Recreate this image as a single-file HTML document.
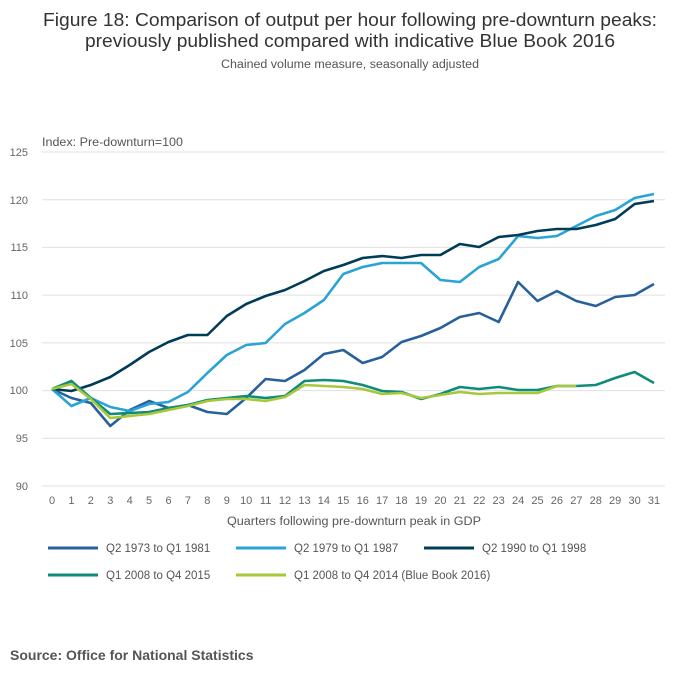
<!DOCTYPE html>
<html><head><meta charset="utf-8"><style>
body{margin:0;background:#fff;width:700px;height:682px;overflow:hidden;font-family:"Liberation Sans",sans-serif}
</style></head><body>
<svg width="700" height="682" xmlns="http://www.w3.org/2000/svg" font-family="Liberation Sans, sans-serif">
<text x="350" y="26" text-anchor="middle" font-size="18" fill="#333" textLength="614" lengthAdjust="spacingAndGlyphs">Figure 18: Comparison of output per hour following pre-downturn peaks:</text>
<text x="350" y="47" text-anchor="middle" font-size="18" fill="#333" textLength="530" lengthAdjust="spacingAndGlyphs">previously published compared with indicative Blue Book 2016</text>
<text x="350" y="68" text-anchor="middle" font-size="11.5" fill="#555" textLength="258" lengthAdjust="spacingAndGlyphs">Chained volume measure, seasonally adjusted</text>
<text x="42" y="146" font-size="11.5" fill="#555" textLength="141" lengthAdjust="spacingAndGlyphs">Index: Pre-downturn=100</text>
<g stroke="#e0e0e0" stroke-width="1">
<line x1="42" x2="665" y1="152" y2="152"/><line x1="42" x2="665" y1="199.7" y2="199.7"/><line x1="42" x2="665" y1="247.4" y2="247.4"/><line x1="42" x2="665" y1="295.1" y2="295.1"/><line x1="42" x2="665" y1="342.9" y2="342.9"/><line x1="42" x2="665" y1="390.6" y2="390.6"/><line x1="42" x2="665" y1="438.3" y2="438.3"/><line x1="42" x2="665" y1="486" y2="486"/>
</g>
<g font-size="11" fill="#666" text-anchor="end">
<text x="28" y="156">125</text><text x="28" y="204">120</text><text x="28" y="251">115</text><text x="28" y="299">110</text><text x="28" y="347">105</text><text x="28" y="394">100</text><text x="28" y="442">95</text><text x="28" y="490">90</text>
</g>
<g id="xl" font-size="11" fill="#666" text-anchor="middle"></g>
<text x="354" y="525" text-anchor="middle" font-size="11.5" fill="#555" textLength="254" lengthAdjust="spacingAndGlyphs">Quarters following pre-downturn peak in GDP</text>
<g id="lines" fill="none" stroke-width="2.6" stroke-linejoin="round"></g>
<g font-size="11.5" fill="#555">
<line x1="48" x2="98" y1="548" y2="548" stroke="#27609a" stroke-width="3"/><text x="106" y="552">Q2 1973 to Q1 1981</text>
<line x1="236" x2="286" y1="548" y2="548" stroke="#2aa3d6" stroke-width="3"/><text x="294" y="552">Q2 1979 to Q1 1987</text>
<line x1="424" x2="474" y1="548" y2="548" stroke="#003c57" stroke-width="3"/><text x="482" y="552">Q2 1990 to Q1 1998</text>
<line x1="48" x2="98" y1="575" y2="575" stroke="#0f8c79" stroke-width="3"/><text x="106" y="579">Q1 2008 to Q4 2015</text>
<line x1="236" x2="286" y1="575" y2="575" stroke="#a8c73a" stroke-width="3"/><text x="294" y="579">Q1 2008 to Q4 2014 (Blue Book 2016)</text>
</g>
<text x="10" y="660" font-size="14" font-weight="bold" fill="#555">Source: Office for National Statistics</text>
</svg>
<script>
var X=function(i){return 52+19.42*i};
var xl=document.getElementById('xl'),s='';
for(var i=0;i<32;i++)s+='<text x="'+X(i)+'" y="504">'+i+'</text>';
xl.innerHTML=s;
var d=[
["#27609a",[389,398,403,426,410,401,408,405,412,414,398,379,381,370,354,350,363,357,342,336,328,317,313,322,282,301,291,301,306,297,295,284]],
["#2aa3d6",[389,406,398,407,411,404,402,392,373,355,345,343,324,313,300,274,267,263,263,263,280,282,267,259,236,238,236,226,216,210,198,194]],
["#003c57",[389,391,385,377,365,352,342,335,335,316,304,296,290,281,271,265,258,256,258,255,255,244,247,237,235,231,229,229,225,219,204,201]],
["#0f8c79",[389,381,398,414,413,412,408,405,400,398,396,398,396,381,380,381,385,391,392,399,394,387,389,387,390,390,386,386,385,378,372,383]],
["#a8c73a",[389,384,399,418,416,414,410,406,401,399,399,401,397,385,386,387,389,394,393,398,395,392,394,393,393,393,386,386]]];
var g='';
d.forEach(function(r){g+='<polyline stroke="'+r[0]+'" points="'+r[1].map(function(y,i){return X(i).toFixed(1)+','+y}).join(' ')+'"/>'});
document.getElementById('lines').innerHTML=g;
</script>
</body></html>
